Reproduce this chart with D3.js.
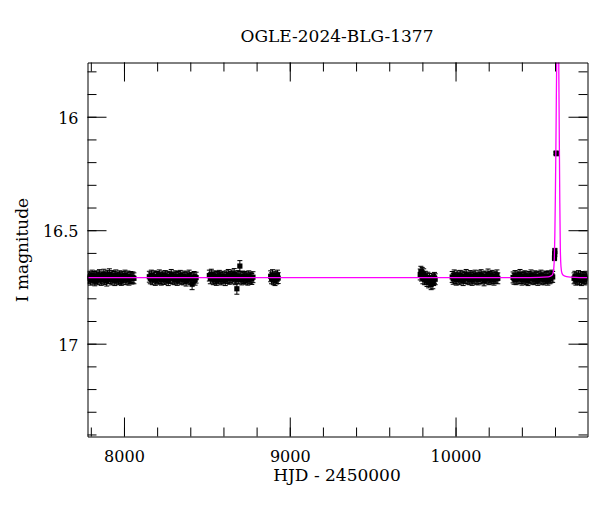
<!DOCTYPE html>
<html><head><meta charset="utf-8">
<script src="https://cdn.jsdelivr.net/npm/d3@7"></script>
<style>body{margin:0;background:#fff}svg{display:block}</style>
</head><body><div id="chart"></div>
<script>
const titleText = "OGLE-2024-BLG-1377";
const xLabelText = "HJD - 2450000";
const yLabelText = "I magnitude";
const xDomain = [7780, 10796];
const yDomain = [15.761, 17.409];
const xMajorTicks = [8000, 9000, 10000];
const yMajorTicks = [16, 16.5, 17];
const baseErr = 0.024;

const season1 = [[7786,16.712],[7791,16.705],[7797,16.718],[7802,16.709],[7808,16.700],[7813,16.714],[7819,16.706],[7824,16.721],[7830,16.711],[7835,16.703],[7841,16.716],[7846,16.708],[7852,16.698],[7857,16.713],[7863,16.719],[7868,16.704],[7874,16.710],[7879,16.696],[7885,16.715],[7890,16.707],[7896,16.722],[7901,16.701],[7907,16.711],[7912,16.694],[7918,16.709],[7923,16.717],[7929,16.702],[7934,16.713],[7940,16.706],[7945,16.720],[7951,16.699],[7956,16.712],[7962,16.708],[7967,16.716],[7973,16.703],[7978,16.711],[7984,16.719],[7989,16.705],[7995,16.714],[8000,16.707],[8006,16.700],[8012,16.716],[8018,16.709],[8024,16.704],[8030,16.718],[8036,16.711],[8042,16.706],[8048,16.713],[8054,16.708],[8060,16.712]];
const season2 = [[8153,16.705],[8159,16.712],[8165,16.700],[8171,16.716],[8177,16.708],[8183,16.703],[8189,16.719],[8195,16.710],[8201,16.706],[8207,16.714],[8213,16.699],[8219,16.711],[8225,16.718],[8231,16.704],[8237,16.709],[8243,16.715],[8249,16.702],[8255,16.712],[8261,16.707],[8267,16.720],[8273,16.705],[8279,16.711],[8285,16.697],[8291,16.713],[8297,16.708],[8303,16.716],[8309,16.703],[8315,16.710],[8321,16.719],[8327,16.706],[8333,16.712],[8339,16.701],[8345,16.714],[8351,16.709],[8357,16.717],[8363,16.704],[8369,16.711],[8375,16.722],[8381,16.707],[8387,16.713],[8393,16.700],[8399,16.716],[8405,16.710],[8411,16.738],[8417,16.712],[8423,16.706],[8429,16.718],[8435,16.709]];
const season3 = [[8515,16.700],[8521,16.712],[8527,16.696],[8533,16.708],[8539,16.716],[8545,16.703],[8551,16.711],[8557,16.719],[8563,16.706],[8569,16.713],[8575,16.701],[8581,16.710],[8587,16.717],[8593,16.705],[8599,16.712],[8605,16.708],[8611,16.720],[8617,16.703],[8623,16.711],[8629,16.697],[8635,16.714],[8641,16.706],[8647,16.699],[8653,16.712],[8659,16.704],[8665,16.693],[8671,16.716],[8677,16.708],[8681,16.758],[8687,16.702],[8693,16.713],[8699,16.658],[8705,16.709],[8711,16.717],[8717,16.704],[8723,16.711],[8729,16.706],[8735,16.714],[8741,16.708],[8747,16.718],[8753,16.703],[8759,16.712],[8765,16.709],[8771,16.715],[8778,16.707]];
const season4 = [[8885,16.703],[8890,16.712],[8896,16.698],[8901,16.716],[8906,16.708],[8911,16.720],[8916,16.705],[8921,16.713],[8926,16.700],[8930,16.711]];
const season5 = [[9787,16.695],[9791,16.683],[9795,16.700],[9799,16.688],[9803,16.712],[9808,16.694],[9813,16.716],[9818,16.705],[9823,16.716],[9828,16.724],[9833,16.709],[9838,16.730],[9843,16.714],[9848,16.724],[9853,16.738],[9858,16.716],[9863,16.734],[9868,16.720],[9873,16.710],[9877,16.716]];
const season6 = [[9980,16.706],[9986,16.714],[9992,16.699],[9998,16.711],[10004,16.718],[10010,16.703],[10016,16.709],[10022,16.716],[10028,16.701],[10034,16.712],[10040,16.707],[10046,16.720],[10052,16.704],[10058,16.711],[10064,16.697],[10070,16.713],[10076,16.708],[10082,16.716],[10088,16.702],[10094,16.710],[10100,16.719],[10106,16.705],[10112,16.712],[10118,16.700],[10124,16.714],[10130,16.709],[10136,16.717],[10142,16.703],[10148,16.711],[10154,16.698],[10160,16.713],[10166,16.707],[10172,16.721],[10178,16.704],[10184,16.712],[10190,16.709],[10196,16.695],[10202,16.716],[10208,16.706],[10214,16.713],[10220,16.701],[10226,16.711],[10232,16.718],[10238,16.705],[10244,16.710],[10250,16.699],[10255,16.712]];
const season7 = [[10347,16.708],[10353,16.714],[10359,16.702],[10365,16.716],[10371,16.709],[10377,16.704],[10383,16.712],[10389,16.697],[10395,16.711],[10401,16.718],[10407,16.705],[10413,16.710],[10419,16.703],[10425,16.715],[10431,16.708],[10437,16.720],[10443,16.706],[10449,16.712],[10455,16.699],[10461,16.713],[10467,16.708],[10473,16.716],[10479,16.703],[10485,16.711],[10491,16.707],[10497,16.719],[10503,16.705],[10509,16.712],[10515,16.700],[10521,16.714],[10527,16.709],[10533,16.717],[10539,16.704],[10545,16.711],[10551,16.706],[10557,16.718],[10563,16.703],[10569,16.712],[10575,16.708],[10581,16.700],[10586,16.706]];
const eventPoints = [[10597,16.622,0.012],[10598,16.605,0.012],[10599,16.592,0.012],[10607,16.16,0.006],[10608,16.163,0.006]];
const season8 = [[10715,16.712],[10720,16.705],[10726,16.718],[10731,16.709],[10737,16.714],[10742,16.702],[10748,16.716],[10753,16.708],[10759,16.720],[10764,16.706],[10770,16.713],[10775,16.710],[10781,16.717],[10786,16.705],[10791,16.712]];

const modelCurve = [[7780,16.709],[10450,16.709],[10560,16.706],[10580,16.700],[10588,16.690],[10593,16.665],[10596,16.62],[10599,16.52],[10602,16.36],[10605,16.16],[10608,15.92],[10611,15.70],[10614,15.50],[10617,15.42],[10620,15.55],[10623,15.80],[10626,16.10],[10629,16.38],[10632,16.58],[10636,16.66],[10642,16.69],[10652,16.70],[10670,16.705],[10720,16.708],[10796,16.709]];

const W = 600, H = 512;
const L = 87.5, R = 587.5, T = 62.5, B = 436.5;
const FONT = "'DejaVu Serif', serif";

const svg = d3.select("#chart").append("svg").attr("width", W).attr("height", H);
const x = d3.scaleLinear().domain(xDomain).range([L, R]);
const y = d3.scaleLinear().domain(yDomain).range([T, B]);

svg.append("defs").append("clipPath").attr("id", "clip")
  .append("rect").attr("x", L).attr("y", T).attr("width", R - L).attr("height", B - T);

const allPoints = [].concat(season1, season2, season3, season4, season5, season6, season7, eventPoints, season8);

const plot = svg.append("g").attr("clip-path", "url(#clip)");
const pts = plot.selectAll("g.pt").data(allPoints).join("g").attr("class", "pt");
const errOf = d => (d[2] !== undefined ? d[2] : baseErr);
pts.append("line")
  .attr("x1", d => x(d[0])).attr("x2", d => x(d[0]))
  .attr("y1", d => y(d[1] - errOf(d))).attr("y2", d => y(d[1] + errOf(d)))
  .attr("stroke", "#000").attr("stroke-width", 1);
pts.append("line")
  .attr("x1", d => x(d[0]) - 2.5).attr("x2", d => x(d[0]) + 2.5)
  .attr("y1", d => y(d[1] - errOf(d))).attr("y2", d => y(d[1] - errOf(d)))
  .attr("stroke", "#000").attr("stroke-width", 1);
pts.append("line")
  .attr("x1", d => x(d[0]) - 2.5).attr("x2", d => x(d[0]) + 2.5)
  .attr("y1", d => y(d[1] + errOf(d))).attr("y2", d => y(d[1] + errOf(d)))
  .attr("stroke", "#000").attr("stroke-width", 1);
pts.append("rect")
  .attr("x", d => x(d[0]) - 2.6).attr("y", d => y(d[1]) - 2.6)
  .attr("width", 5.2).attr("height", 5.2).attr("fill", "#000");

const line = d3.line().x(d => x(d[0])).y(d => y(d[1])).curve(d3.curveMonotoneX);
plot.append("path").datum(modelCurve).attr("d", line)
  .attr("fill", "none").attr("stroke", "#ff00ff").attr("stroke-width", 1.3);

function styleAxis(g) {
  g.selectAll("line").attr("stroke", "#000");
  g.selectAll("path").attr("stroke", "#000");
  g.selectAll("text").attr("font-family", FONT).attr("font-size", 16).attr("fill", "#000");
}
const xMinor = x.ticks(15);
const yMinor = y.ticks(16);

svg.append("g").attr("transform", `translate(0,${B})`)
  .call(d3.axisBottom(x).tickValues(xMinor).tickSize(-9).tickSizeOuter(0).tickFormat(""))
  .call(g => g.select(".domain").remove()).call(styleAxis);
svg.append("g").attr("transform", `translate(0,${B})`)
  .call(d3.axisBottom(x).tickValues(xMajorTicks).tickSize(-19).tickSizeOuter(0).tickPadding(14).tickFormat(d => String(d)))
  .call(styleAxis);
svg.append("g").attr("transform", `translate(0,${T})`)
  .call(d3.axisTop(x).tickValues(xMinor).tickSize(-9).tickSizeOuter(0).tickFormat(""))
  .call(g => g.select(".domain").remove()).call(styleAxis);
svg.append("g").attr("transform", `translate(0,${T})`)
  .call(d3.axisTop(x).tickValues(xMajorTicks).tickSize(-19).tickSizeOuter(0).tickFormat(""))
  .call(styleAxis);

svg.append("g").attr("transform", `translate(${L},0)`)
  .call(d3.axisLeft(y).tickValues(yMinor).tickSize(-9).tickSizeOuter(0).tickFormat(""))
  .call(g => g.select(".domain").remove()).call(styleAxis);
svg.append("g").attr("transform", `translate(${L},0)`)
  .call(d3.axisLeft(y).tickValues(yMajorTicks).tickSize(-19).tickSizeOuter(0).tickPadding(9).tickFormat(d => String(d)))
  .call(styleAxis)
  .call(g => g.selectAll("text").attr("dy", "0.4em"));
svg.append("g").attr("transform", `translate(${R},0)`)
  .call(d3.axisRight(y).tickValues(yMinor).tickSize(-9).tickSizeOuter(0).tickFormat(""))
  .call(g => g.select(".domain").remove()).call(styleAxis);
svg.append("g").attr("transform", `translate(${R},0)`)
  .call(d3.axisRight(y).tickValues(yMajorTicks).tickSize(-19).tickSizeOuter(0).tickFormat(""))
  .call(styleAxis);

svg.append("text").attr("x", 337).attr("y", 42).attr("text-anchor", "middle")
  .attr("font-family", FONT).attr("font-size", 17).text(titleText);
svg.append("text").attr("x", 337).attr("y", 481).attr("text-anchor", "middle")
  .attr("font-family", FONT).attr("font-size", 17).text(xLabelText);
svg.append("text").attr("transform", "translate(28,250) rotate(-90)").attr("text-anchor", "middle")
  .attr("font-family", FONT).attr("font-size", 17).text(yLabelText);
</script>
</body></html>
